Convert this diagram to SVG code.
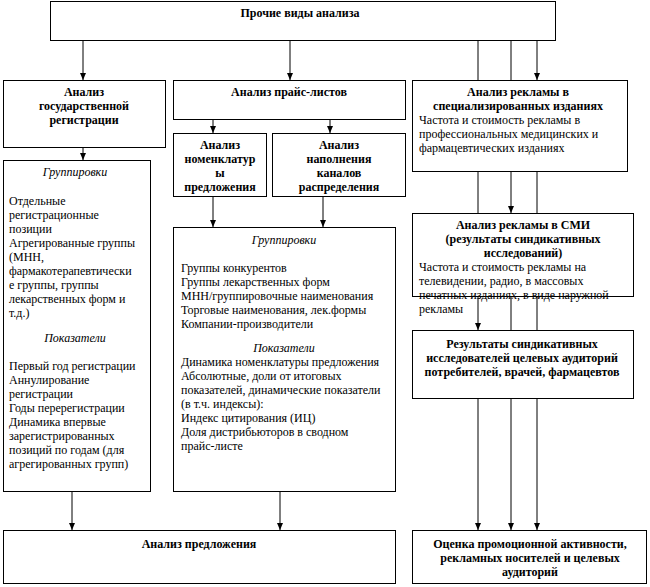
<svg xmlns="http://www.w3.org/2000/svg" width="650" height="587" viewBox="0 0 650 587">
<style>
rect{fill:#fff;stroke:#000;stroke-width:1}
text{font-family:"Liberation Serif","Times New Roman",serif;font-size:12px;fill:#000}
.b{font-weight:bold;text-anchor:middle}
.i{font-style:italic;text-anchor:middle}
.c line{stroke:#000;stroke-width:1}
</style>
<defs>
<marker id="a" markerWidth="7" markerHeight="6" refX="7" refY="3" orient="auto" markerUnits="userSpaceOnUse">
<path d="M0,0 L7,3 L0,6 Z" fill="#000"/>
</marker>
</defs>
<g id="connectors" class="c">
<line x1="83" y1="40" x2="83" y2="80" marker-end="url(#a)"/>
<line x1="290" y1="40" x2="290" y2="80" marker-end="url(#a)"/>
<line x1="537" y1="40" x2="537" y2="80" marker-end="url(#a)"/>
<line x1="478" y1="40" x2="478" y2="330" marker-end="url(#a)"/>
<line x1="511" y1="40" x2="511" y2="213" marker-end="url(#a)"/>
<line x1="83" y1="148" x2="83" y2="160" marker-end="url(#a)"/>
<line x1="213" y1="120" x2="213" y2="133" marker-end="url(#a)"/>
<line x1="330" y1="120" x2="330" y2="133" marker-end="url(#a)"/>
<line x1="213" y1="197" x2="213" y2="227" marker-end="url(#a)"/>
<line x1="323" y1="197" x2="323" y2="227" marker-end="url(#a)"/>
<line x1="72" y1="492" x2="72" y2="530" marker-end="url(#a)"/>
<line x1="280" y1="492" x2="280" y2="530" marker-end="url(#a)"/>
<line x1="511" y1="297" x2="511" y2="530" marker-end="url(#a)"/>
<line x1="537" y1="172" x2="537" y2="530" marker-end="url(#a)"/>
<line x1="478" y1="399" x2="478" y2="530" marker-end="url(#a)"/>
</g>
<g id="top">
<rect x="50.5" y="1.5" width="505" height="39"/>
<text class="b" x="300" y="17">Прочие виды анализа</text>
</g>
<g id="reg">
<rect x="3.5" y="80.5" width="162" height="67"/>
<text class="b" x="84" y="96">Анализ</text>
<text class="b" x="84" y="110">государственной</text>
<text class="b" x="84" y="124">регистрации</text>
</g>
<g id="reg-details">
<rect x="3.5" y="160.5" width="147" height="331"/>
<text class="i" x="75" y="176">Группировки</text>
<text x="9" y="205">Отдельные</text>
<text x="9" y="219">регистрационные</text>
<text x="9" y="233">позиции</text>
<text x="9" y="247">Агрегированные группы</text>
<text x="9" y="261">(МНН,</text>
<text x="9" y="275">фармакотерапевтически</text>
<text x="9" y="289">е группы, группы</text>
<text x="9" y="303">лекарственных форм и</text>
<text x="9" y="317">т.д.)</text>
<text class="i" x="75" y="342">Показатели</text>
<text x="9" y="370">Первый год регистрации</text>
<text x="9" y="384">Аннулирование</text>
<text x="9" y="398">регистрации</text>
<text x="9" y="412">Годы перерегистрации</text>
<text x="9" y="426">Динамика впервые</text>
<text x="9" y="440">зарегистрированных</text>
<text x="9" y="454">позиций по годам (для</text>
<text x="9" y="468">агрегированных групп)</text>
</g>
<g id="price">
<rect x="173.5" y="80.5" width="232" height="39"/>
<text class="b" x="289" y="96">Анализ прайс-листов</text>
</g>
<g id="nomen">
<rect x="173.5" y="133.5" width="93" height="63"/>
<text class="b" x="220" y="149">Анализ</text>
<text class="b" x="220" y="163">номенклатур</text>
<text class="b" x="220" y="177">ы</text>
<text class="b" x="220" y="191">предложения</text>
</g>
<g id="channels">
<rect x="272.5" y="133.5" width="133" height="63"/>
<text class="b" x="339" y="149">Анализ</text>
<text class="b" x="339" y="163">наполнения</text>
<text class="b" x="339" y="177">каналов</text>
<text class="b" x="339" y="191">распределения</text>
</g>
<g id="price-details">
<rect x="173.5" y="227.5" width="222" height="264"/>
<text class="i" x="284" y="244">Группировки</text>
<text x="181" y="272">Группы конкурентов</text>
<text x="181" y="286">Группы лекарственных форм</text>
<text x="181" y="300">МНН/группировочные наименования</text>
<text x="181" y="314">Торговые наименования, лек.формы</text>
<text x="181" y="328">Компании-производители</text>
<text class="i" x="284" y="352">Показатели</text>
<text x="181" y="366">Динамика номенклатуры предложения</text>
<text x="181" y="380">Абсолютные, доли от итоговых</text>
<text x="181" y="394">показателей, динамические показатели</text>
<text x="181" y="408">(в т.ч. индексы):</text>
<text x="181" y="422">Индекс цитирования (ИЦ)</text>
<text x="181" y="436">Доля дистрибьюторов в сводном</text>
<text x="181" y="450">прайс-листе</text>
</g>
<g id="spec">
<rect x="412.5" y="80.5" width="215" height="91"/>
<text class="b" x="518" y="96">Анализ рекламы  в</text>
<text class="b" x="518" y="110">специализированных изданиях</text>
<text x="419" y="124">Частота и стоимость рекламы в</text>
<text x="419" y="138">профессиональных медицинских и</text>
<text x="419" y="152">фармацевтических изданиях</text>
</g>
<g id="smi">
<rect x="412.5" y="213.5" width="221" height="83"/>
<text class="b" x="523" y="229">Анализ рекламы  в  СМИ</text>
<text class="b" x="523" y="243">(результаты синдикативных</text>
<text class="b" x="523" y="257">исследований)</text>
<text x="419" y="271">Частота и стоимость рекламы на</text>
<text x="419" y="285">телевидении, радио, в массовых</text>
<text x="419" y="299">печатных изданиях, в виде наружной</text>
<text x="419" y="313">рекламы</text>
</g>
<g id="results">
<rect x="412.5" y="330.5" width="221" height="68"/>
<text class="b" x="522" y="348">Результаты синдикативных</text>
<text class="b" x="522" y="362">исследователей целевых аудиторий</text>
<text class="b" x="522" y="376">потребителей, врачей, фармацевтов</text>
</g>
<g id="supply">
<rect x="3.5" y="530.5" width="392" height="53"/>
<text class="b" x="199" y="548">Анализ предложения</text>
</g>
<g id="promo">
<rect x="412.5" y="530.5" width="234" height="53"/>
<text class="b" x="530" y="548">Оценка промоционной активности,</text>
<text class="b" x="530" y="562">рекламных носителей и целевых</text>
<text class="b" x="530" y="576">аудиторий</text>
</g>
</svg>
